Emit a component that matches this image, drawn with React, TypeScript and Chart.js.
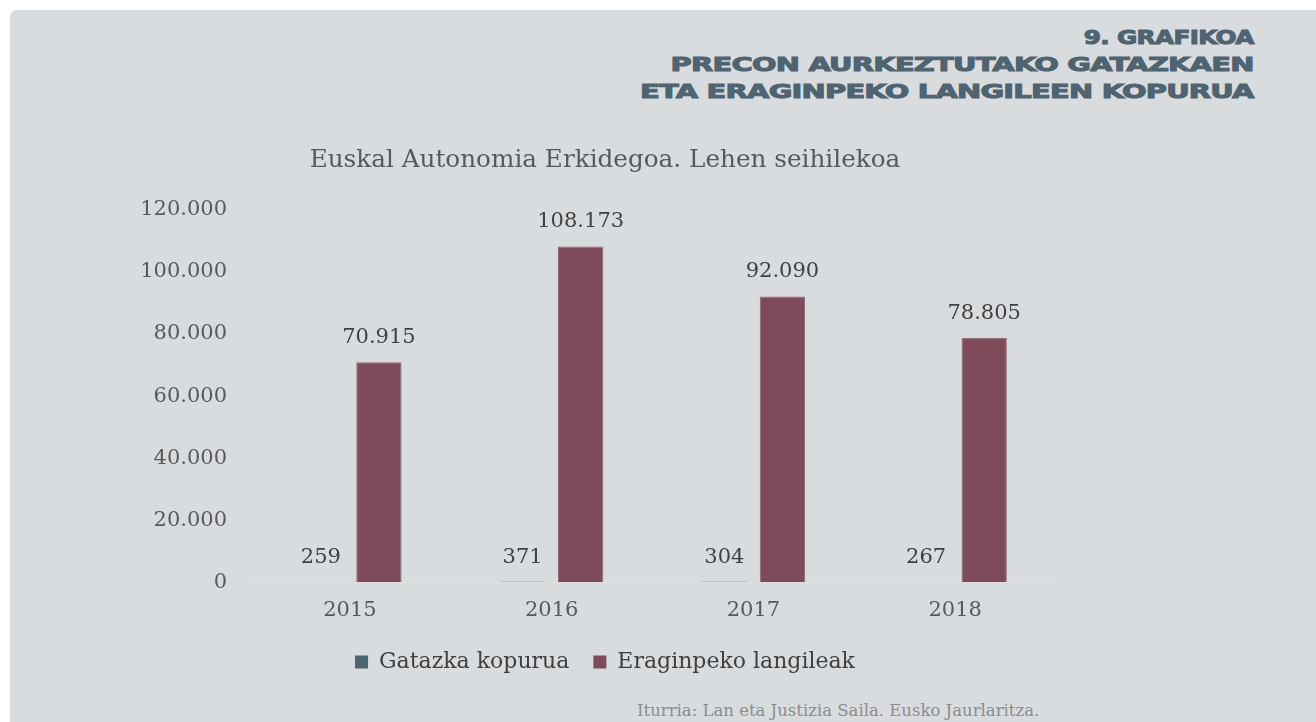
import React, { useEffect, useRef } from "react";
import { Chart, registerables } from "chart.js";

Chart.register(...registerables);

const categories = ["2015", "2016", "2017", "2018"];
const seriesNames = ["Gatazka kopurua", "Eraginpeko langileak"];
const gatazkaKopurua = [259, 371, 304, 267];
const eraginpekoLangileak = [70915, 108173, 92090, 78805];
const yTicks = [0, 20000, 40000, 60000, 80000, 100000, 120000];
const headingLines = ["9. GRAFIKOA", "PRECON AURKEZTUTAKO GATAZKAEN", "ETA ERAGINPEKO LANGILEEN KOPURUA"];
const chartTitle = "Euskal Autonomia Erkidegoa. Lehen seihilekoa";
const sourceText = "Iturria: Lan eta Justizia Saila. Eusko Jaurlaritza.";

const FONT = "'DejaVu Serif', serif";
const headingScales = [1.3, 1.52, 1.52];

function fmt(v: number): string {
  return String(Math.round(v)).replace(/\B(?=(\d{3})+(?!\d))/g, ".");
}

const valueLabels = {
  id: "valueLabels",
  afterDatasetsDraw(chart: any) {
    const ctx = chart.ctx;
    ctx.save();
    ctx.font = `21px ${FONT}`;
    ctx.fillStyle = "#404040";
    ctx.textAlign = "center";
    ctx.textBaseline = "bottom";
    chart.data.datasets.forEach((ds: any, i: number) => {
      const meta = chart.getDatasetMeta(i);
      meta.data.forEach((el: any, j: number) => {
        ctx.fillText(fmt(ds.data[j]), el.x, el.y - 14);
      });
    });
    ctx.restore();
  },
};

export default function App() {
  const canvasRef = useRef<HTMLCanvasElement | null>(null);

  useEffect(() => {
    document.body.style.margin = "0";
    const canvas = canvasRef.current;
    if (!canvas) return;
    const chart = new Chart(canvas, {
      type: "bar",
      data: {
        labels: categories,
        datasets: [
          {
            label: seriesNames[0],
            data: gatazkaKopurua,
            backgroundColor: "#4e6470",
            categoryPercentage: 0.576,
            barPercentage: 0.78,
          },
          {
            label: seriesNames[1],
            data: eraginpekoLangileak,
            backgroundColor: "#7d4b59",
            borderColor: "#8f6470",
            borderWidth: 1,
            categoryPercentage: 0.576,
            barPercentage: 0.78,
          },
        ],
      },
      options: {
        animation: false,
        responsive: false,
        maintainAspectRatio: false,
        layout: { padding: { left: 0, right: 0, top: 0, bottom: 0 } },
        plugins: {
          title: {
            display: true,
            text: chartTitle,
            color: "#595959",
            font: { family: FONT, size: 24.7, weight: "normal" },
            padding: { top: 16, bottom: 34 },
          },
          legend: {
            display: true,
            position: "bottom",
            labels: {
              color: "#404040",
              font: { family: FONT, size: 22 },
              boxWidth: 13,
              boxHeight: 13,
              padding: 13,
              generateLabels: (chart: any) => {
                const base = Chart.defaults.plugins.legend.labels.generateLabels(chart);
                return base.map((item: any, i: number) => ({
                  ...item,
                  text: i < base.length - 1 ? item.text + "\u2002" : item.text,
                  lineWidth: 0,
                }));
              },
            },
          },
          tooltip: { enabled: false },
        },
        scales: {
          x: {
            grid: { display: false, drawTicks: false },
            border: { display: true, color: "#e3dfdf", width: 1, z: 1 },
            ticks: {
              color: "#595959",
              font: { family: FONT, size: 21 },
              padding: 15,
            },
          },
          y: {
            min: 0,
            max: 120000,
            afterBuildTicks: (axis: any) => {
              axis.ticks = yTicks.map((v) => ({ value: v }));
            },
            afterFit: (axis: any) => {
              axis.width = 109;
            },
            grid: { display: false, drawTicks: false },
            border: { display: false },
            ticks: {
              color: "#595959",
              font: { family: FONT, size: 21 },
              padding: 22,
              callback: (v: any) => fmt(Number(v)),
            },
          },
          spacer: {
            type: "linear",
            axis: "y",
            position: "right",
            display: true,
            min: 0,
            max: 1,
            grid: { display: false, drawTicks: false },
            border: { display: false },
            ticks: { display: false },
            afterFit: (axis: any) => {
              axis.width = 14;
            },
          },
        },
      },
      plugins: [valueLabels],
    } as any);
    return () => chart.destroy();
  }, []);

  return (
    <div style={{ position: "relative", width: 1316, height: 722, overflow: "hidden", background: "#ffffff" }}>
      <div
        style={{
          position: "absolute",
          left: 10,
          top: 10,
          right: 0,
          bottom: 0,
          background: "#d9dcdf",
          borderTopLeftRadius: 7,
        }}
      />
      <div
        style={{
          position: "absolute",
          right: 62,
          top: 24,
          textAlign: "right",
          fontFamily: "'DejaVu Sans', sans-serif",
          fontWeight: 700,
          fontSize: 19,
          lineHeight: "27px",
          color: "#4f6370",
          WebkitTextStroke: "1px #4f6370",
          letterSpacing: "-0.5px",
          whiteSpace: "nowrap",
        }}
      >
        {headingLines.map((l, i) => (
          <div key={i} style={{ transform: `scaleX(${headingScales[i]})`, transformOrigin: "right top" }}>
            {l}
          </div>
        ))}
      </div>
      <div style={{ position: "absolute", left: 140, top: 130, width: 930, height: 553 }}>
        <canvas ref={canvasRef} width={930} height={553} style={{ width: 930, height: 553 }} />
      </div>
      <div
        style={{
          position: "absolute",
          left: 637,
          top: 701,
          fontFamily: FONT,
          fontSize: 16.5,
          color: "#8c8c8c",
          whiteSpace: "nowrap",
        }}
      >
        {sourceText}
      </div>
    </div>
  );
}
